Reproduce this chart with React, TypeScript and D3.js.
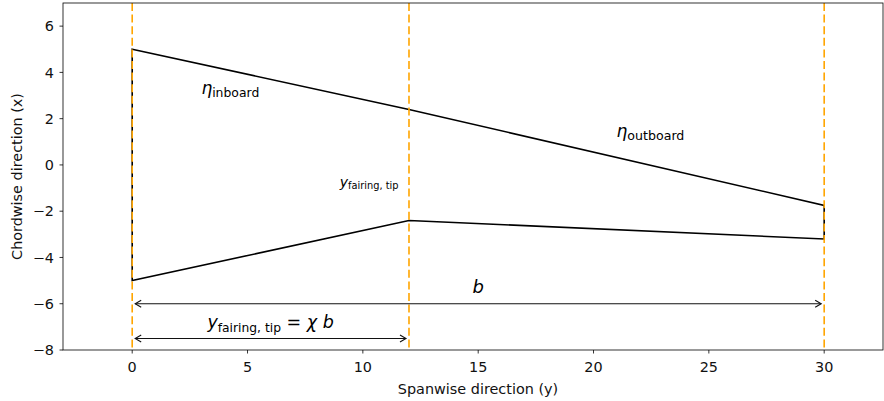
import React from "react";
import * as d3 from "d3";

// wing planform outline (spanwise y, chordwise x)
const outlineY = [0, 12, 30, 30, 12, 0];
const outlineX = [5, 2.4, -1.75, -3.2, -2.4, -5];
const guideLines = [0, 12, 30];
const xTicks = [0, 5, 10, 15, 20, 25, 30];
const yTicks = [-8, -6, -4, -2, 0, 2, 4, 6];

const W = 884;
const H = 401;
const margin = { top: 3, right: 1, bottom: 51, left: 63 };

const font = "'DejaVu Sans', sans-serif";
const tickSize = 14.4;

const App = () => {
  const x = d3.scaleLinear().domain([-3, 32.55]).range([margin.left, W - margin.right]);
  const y = d3.scaleLinear().domain([-8, 7]).range([H - margin.bottom, margin.top]);

  const pts: [number, number][] = outlineY.map((v, i) => [x(v), y(outlineX[i])]);
  const outline = d3.line()(pts) + "Z";

  const arrow = (y0: number, x0: number, x1: number) => {
    const py = y(y0);
    const a = x(x0) + 3;
    const b = x(x1) - 3;
    const hl = 6, hw = 3.5;
    return (
      <g stroke="#111" strokeWidth={1.1} fill="none">
        <line x1={a} x2={b} y1={py} y2={py} />
        <path d={`M${a + hl},${py - hw}L${a},${py}L${a + hl},${py + hw}`} />
        <path d={`M${b - hl},${py - hw}L${b},${py}L${b - hl},${py + hw}`} />
      </g>
    );
  };

  return (
    <svg width={W} height={H} style={{ position: "absolute", left: 0, top: 0, background: "#fff" }} fontFamily={font}>
      <path d={outline} fill="none" stroke="#000" strokeWidth={1.6} strokeLinejoin="miter" />
      {guideLines.map((g) => (
        <line key={g} x1={x(g)} x2={x(g)} y1={margin.top} y2={H - margin.bottom}
          stroke="#FFA500" strokeWidth={1.6} strokeDasharray="8,3.6" />
      ))}

      {arrow(-6, 0, 30)}
      {arrow(-7.5, 0, 12)}

      <text x={x(15)} y={y(-5.55)} fontSize={18} textAnchor="middle" fontStyle="italic">b</text>

      <text x={x(6)} y={y(-7.05)} fontSize={17.5} textAnchor="middle">
        <tspan fontStyle="italic">y</tspan>
        <tspan fontSize={12.3} dy={4}>fairing, tip</tspan>
        <tspan dy={-4}> = </tspan>
        <tspan fontStyle="italic">χ b</tspan>
      </text>

      <text x={x(3)} y={y(3.05)} fontSize={17}>
        <tspan fontStyle="italic">η</tspan>
        <tspan fontSize={12.4} dy={3}>inboard</tspan>
      </text>
      <text x={x(21)} y={y(1.2)} fontSize={17}>
        <tspan fontStyle="italic">η</tspan>
        <tspan fontSize={12.6} dy={3}>outboard</tspan>
      </text>
      <text x={x(9)} y={y(-0.95)} fontSize={14}>
        <tspan fontStyle="italic">y</tspan>
        <tspan fontSize={9.8} dy={2.5}>fairing, tip</tspan>
      </text>

      {/* frame */}
      <rect x={margin.left} y={margin.top} width={W - margin.left - margin.right}
        height={H - margin.top - margin.bottom} fill="none" stroke="#000" strokeWidth={0.8} />

      {xTicks.map((t) => (
        <g key={t} transform={`translate(${x(t)},${H - margin.bottom})`}>
          <line y2={3.5} stroke="#000" strokeWidth={0.8} />
          <text y={21.5} fontSize={tickSize} textAnchor="middle" fill="#111">{t < 0 ? `\u2212${-t}` : t}</text>
        </g>
      ))}
      {yTicks.map((t) => (
        <g key={t} transform={`translate(${margin.left},${y(t)})`}>
          <line x2={-3.5} stroke="#000" strokeWidth={0.8} />
          <text x={-9} dy="0.36em" fontSize={tickSize} textAnchor="end" fill="#111">{t < 0 ? `\u2212${-t}` : t}</text>
        </g>
      ))}

      <text x={(margin.left + W - margin.right) / 2 + 5} y={394} fontSize={tickSize} textAnchor="middle" fill="#111">
        Spanwise direction (y)
      </text>
      <text transform={`translate(22,${(margin.top + H - margin.bottom) / 2}) rotate(-90)`} fontSize={tickSize}
        textAnchor="middle" fill="#111">
        Chordwise direction (x)
      </text>
    </svg>
  );
};

export default App;
